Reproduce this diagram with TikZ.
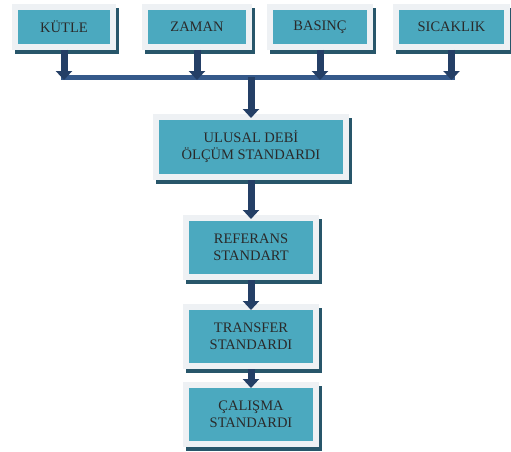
\documentclass[tikz,border=0pt]{standalone}
\usepackage{fontspec}
\setmainfont{Liberation Serif}
\usepackage{tikz}
\usetikzlibrary{positioning, arrows.meta}

\definecolor{boxteal}{HTML}{4BA9BF}
\definecolor{framegray}{HTML}{EEF1F4}
\definecolor{shadowteal}{HTML}{28566A}
\definecolor{arrownavy}{HTML}{243F66}
\definecolor{barblue}{HTML}{35598A}
\definecolor{textgray}{HTML}{2A2A2A}

\begin{document}
\begin{tikzpicture}[x=1pt, y=-1pt,
	every node/.style={rectangle, fill=boxteal, draw=framegray, line width=6pt, inner sep=0pt, align=center, text=textgray, font=\fontsize{14.5}{17}\selectfont,
		preaction={fill=shadowteal, draw=shadowteal, transform canvas={xshift=2.5pt, yshift=-4pt}}},
	flow/.style={arrownavy, line width=7pt, -{Triangle[width=16pt, length=9pt]}}]
					\useasboundingbox (0,0) rectangle (511,452);

					% measured quantities
					\foreach \i/\x/\w/\txt in {1/64/98/KÜTLE, 2/197/104/ZAMAN, 3/320/100/BASINÇ, 4/451.5/111/SICAKLIK} {
						\node[minimum width=\w pt, minimum height=40pt] (q\i) at (\x,27) {\txt};
					}

					% standards chain
					\node[minimum width=190pt, minimum height=60pt] (ulusal) at (251,147) {ULUSAL DEBİ\\ÖLÇÜM STANDARDI};
					\node[minimum width=130pt, minimum height=59pt, below=35pt of ulusal] (referans) {REFERANS\\STANDART};
					\node[minimum width=130pt, minimum height=59pt, below=24pt of referans] (transfer) {TRANSFER\\STANDARDI};
					\node[minimum width=130pt, minimum height=59pt, below=13pt of transfer] (calisma) {ÇALIŞMA\\STANDARDI};

					\draw[barblue, line width=5pt, shorten <=-3.5pt, shorten >=-3.5pt] (q1 |- 0,77) -- (q4 |- 0,77);
					\foreach \i in {1,...,4} {
						\draw[flow] (q\i.south) -- (q\i |- 0,80);
					}
					\draw[flow, shorten >=-4pt] (ulusal |- 0,77) -- (ulusal.north);
					\draw[flow, shorten >=-4pt] (ulusal) -- (referans);
					\draw[flow, shorten >=-6pt] (referans) -- (transfer);
					\draw[flow, shorten >=-6pt] (transfer) -- (calisma);
				\end{tikzpicture}
\end{document}
